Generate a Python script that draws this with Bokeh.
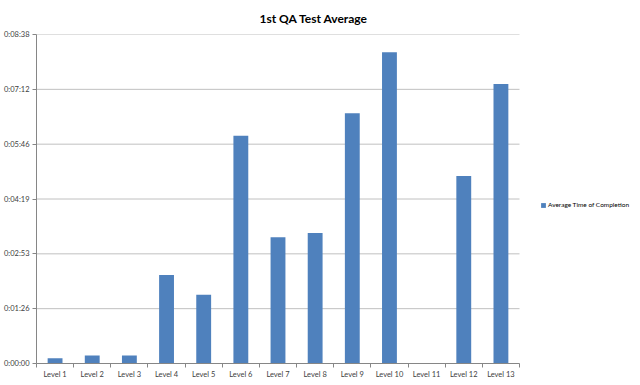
from bokeh.plotting import figure
from bokeh.models import (Range1d, FixedTicker, CustomJSTickFormatter, Legend,
                          LegendItem, ColumnDataSource)
from bokeh.embed import file_html
from bokeh.resources import INLINE
import numpy as np

# ---- data ----
levels = ["Level 1", "Level 2", "Level 3", "Level 4", "Level 5", "Level 6", "Level 7",
          "Level 8", "Level 9", "Level 10", "Level 11", "Level 12", "Level 13"]
# average time of completion, in seconds
avg_seconds = [8.4, 12.6, 12.6, 139.3, 108.2, 359, 198.8, 205.6, 394.4, 490.6, 0, 295.5, 440.6]
y_ticks_seconds = [0, 86.4, 172.8, 259.2, 345.6, 432.0, 518.4]
series_name = "Average Time of Completion"
title_text = "1st QA Test Average"

BLUE = "#4F81BD"
FONT = "Lato"
GRID = "#C0C0C0"
AXIS = "#868686"

n = len(levels)
centers = list(np.arange(n) + 0.5)
bounds = list(np.arange(n + 1).astype(float))

# layout: the bar area is 483px wide; the frame continues to the right to hold the legend
BAR_AREA_W = 483
FRAME_W = 596
x_end = n * FRAME_W / BAR_AREA_W

src = ColumnDataSource(dict(x=centers, top=avg_seconds, level=levels))
grid_src = ColumnDataSource(dict(x0=[0] * len(y_ticks_seconds),
                                 x1=[n] * len(y_ticks_seconds),
                                 y=y_ticks_seconds))

p = figure(frame_width=FRAME_W, frame_height=329, output_backend="svg",
           toolbar_location=None,
           x_range=Range1d(0, x_end), y_range=Range1d(0, y_ticks_seconds[-1]),
           min_border_left=28, min_border_right=0, min_border_top=26,
           min_border_bottom=10)
p.outline_line_color = None
p.background_fill_color = "white"
p.border_fill_color = "white"

p.title.text = title_text
p.title.text_font = FONT
p.title.text_font_size = "12px"
p.title.text_font_style = "bold"
p.title.text_color = "#000000"
p.title.align = "left"
p.title.offset = 223
p.title.standoff = 17

# horizontal grid lines, only across the bar area
p.segment(x0="x0", x1="x1", y0="y", y1="y", source=grid_src,
          line_color=GRID, line_width=1)

r = p.vbar(x="x", top="top", width=0.4, bottom=0, source=src,
           fill_color=BLUE, line_color=None)

# y axis
p.yaxis.ticker = FixedTicker(ticks=y_ticks_seconds, minor_ticks=[])
p.yaxis.formatter = CustomJSTickFormatter(code="""
const s = Math.round(tick);
const h = Math.floor(s / 3600);
const m = Math.floor((s % 3600) / 60);
const ss = s % 60;
return h + ":" + String(m).padStart(2, "0") + ":" + String(ss).padStart(2, "0");
""")
p.yaxis.axis_line_color = AXIS
p.yaxis.major_tick_line_color = AXIS
p.yaxis.major_tick_out = 4
p.yaxis.major_tick_in = 0
p.yaxis.minor_tick_line_color = None
p.yaxis.major_label_text_font = FONT
p.yaxis.major_label_text_font_size = "7.5px"
p.yaxis.major_label_text_color = "#404040"
p.yaxis.major_label_standoff = 3

# x axis: labels at category centres, tick marks between categories
p.xaxis.ticker = FixedTicker(ticks=centers, minor_ticks=bounds)
p.xaxis.formatter = CustomJSTickFormatter(args=dict(labels=levels),
                                          code="return labels[Math.floor(tick)];")
p.xaxis.bounds = (0, n)
p.xaxis.axis_line_color = AXIS
p.xaxis.major_tick_line_color = None
p.xaxis.major_tick_out = 0
p.xaxis.major_tick_in = 0
p.xaxis.minor_tick_line_color = AXIS
p.xaxis.minor_tick_out = 4
p.xaxis.minor_tick_in = 0
p.xaxis.major_label_text_font = FONT
p.xaxis.major_label_text_font_size = "7.5px"
p.xaxis.major_label_text_color = "#404040"
p.xaxis.major_label_standoff = 2

p.xgrid.grid_line_color = None
p.ygrid.grid_line_color = None

legend = Legend(items=[LegendItem(label=series_name, renderers=[r])],
                location=(504, 155), orientation="vertical",
                label_text_font=FONT, label_text_font_size="6.5px",
                label_text_color="#000000", glyph_width=6, glyph_height=6,
                label_standoff=2, padding=0, margin=0, spacing=0,
                border_line_color=None, background_fill_alpha=0)
p.add_layout(legend, "center")

open("out.html", "w").write(file_html(p, INLINE))
